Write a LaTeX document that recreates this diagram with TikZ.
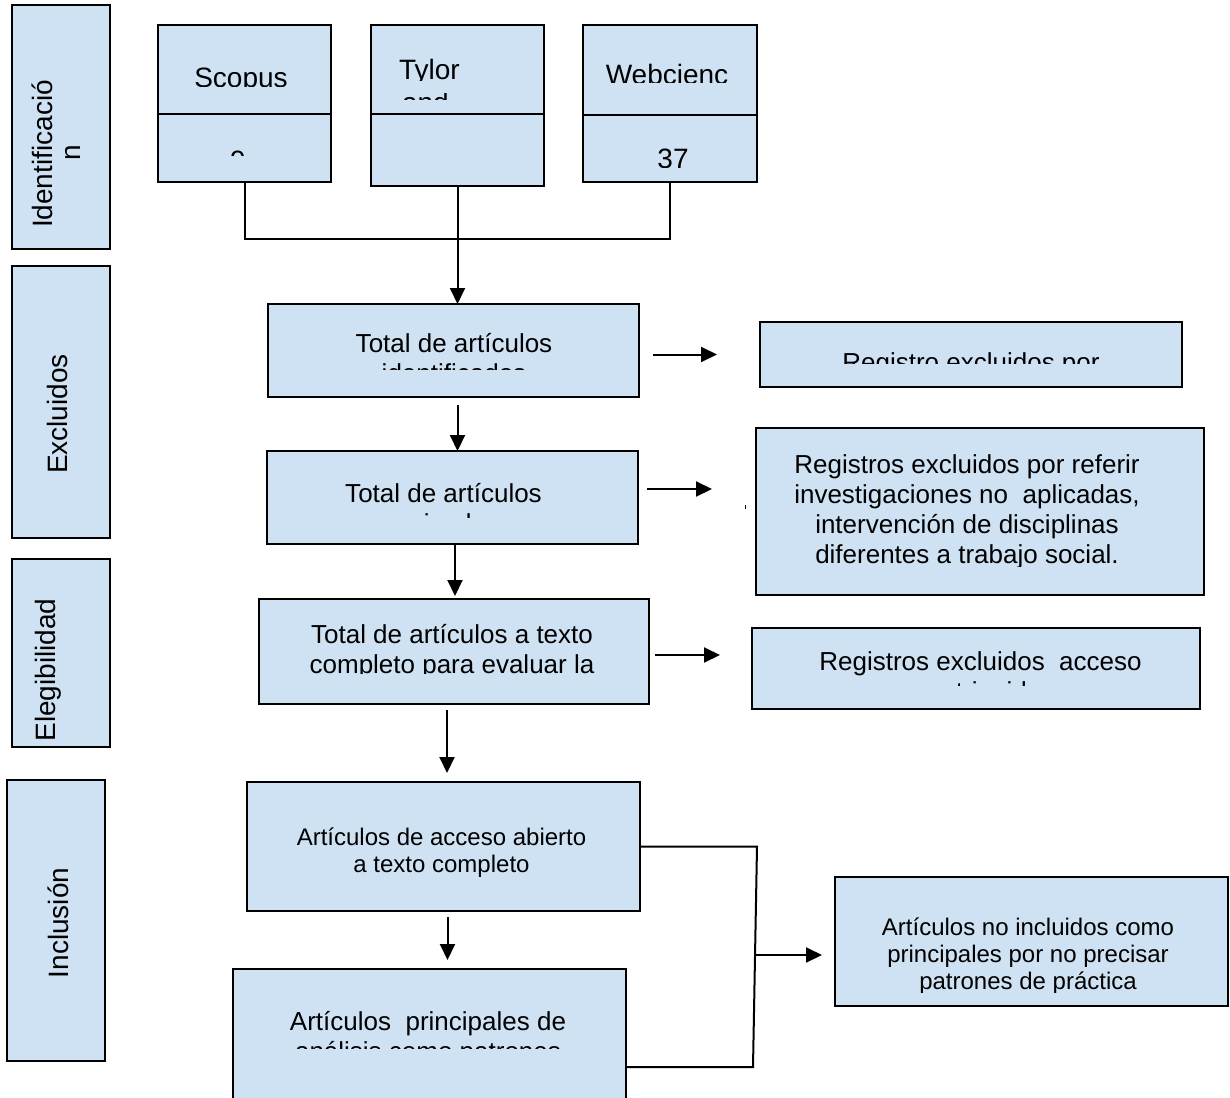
\documentclass[tikz,border=0pt]{standalone}
\usepackage{fontspec}
\setmainfont{Liberation Sans}
\usetikzlibrary{arrows.meta,calc}
\definecolor{boxblue}{RGB}{207,226,243}
\tikzset{
  bx/.style={draw=black, fill=boxblue, line width=2pt, inner sep=0pt, outer sep=0pt, anchor=north west},
  ln/.style={draw=black, line width=2pt},
  arr/.style={ln, -{Triangle[length=16pt,width=15pt]}},
  fA/.style={font=\fontsize{28}{32}\selectfont},
  fB/.style={font=\fontsize{26}{30}\selectfont},
  fC/.style={font=\fontsize{24}{27}\selectfont},
  txt/.style={inner sep=0pt, outer sep=0pt, anchor=base, align=center},
}
\begin{document}
\begin{tikzpicture}[x=1pt,y=-1pt]
\useasboundingbox (0,0) rectangle (1230,1097);
\clip (0,0) rectangle (1230,1097);
\fill[white] (0,0) rectangle (1230,1097);

% phase labels
\node[bx, minimum width=98pt, minimum height=244pt] (lid) at (12,5) {};
\node[txt, fA, rotate=90] (lidt1) at (52,154) {Identificació};
\node[txt, fA, rotate=90] (lidt2) at (80,153) {n};
\node[bx, minimum width=98pt, minimum height=272pt] (lex) at (12,266) {};
\node[txt, fA, rotate=90] (lext) at (67,414) {Excluidos};
\node[bx, minimum width=98pt, minimum height=188pt] (lel) at (12,559) {};
\node[txt, fA, rotate=90] (lelt) at (55,670) {Elegibilidad};
\node[bx, minimum width=98pt, minimum height=281pt] (lin) at (7,780) {};
\node[txt, fA, rotate=90] (lint) at (68,923) {Inclusión};

% source boxes
\node[bx, minimum width=173pt, minimum height=157pt] (scopus) at (158,25) {};
\draw[ln] (scopus.west |- 0,114) -- (scopus.east |- 0,114);
\begin{scope}
\clip (158,25) rectangle (331,87);
\node[txt, fA] (scopust) at (241,88) {Scopus};
\end{scope}
\begin{scope}
\clip (158,114) rectangle (331,155);
\node[txt, fA] (scopusn) at (238,170) {9};
\end{scope}

\node[bx, minimum width=173pt, minimum height=161pt] (tylor) at (371,25) {};
\draw[ln] (tylor.west |- 0,114) -- (tylor.east |- 0,114);
\begin{scope}
\clip (371,25) rectangle (544,81);
\node[txt, fA, anchor=base west] (tylort1) at (399,80) {Tylor};
\end{scope}
\begin{scope}
\clip (371,94) rectangle (544,100);
\node[txt, fA, anchor=base west] (tylort2) at (402,113) {and};
\end{scope}

\node[bx, minimum width=174pt, minimum height=157pt] (webc) at (583,25) {};
\draw[ln] (webc.west |- 0,115) -- (webc.east |- 0,115);
\begin{scope}
\clip (583,25) rectangle (757,83);
\node[txt, fA] (webct) at (667,85) {Webcienc};
\end{scope}
\begin{scope}
\clip (583,115) rectangle (757,167);
\node[txt, fA] (webcn) at (673,168) {37};
\end{scope}

% main column (multi-line nodes: base = baseline of last line)
\node[bx, minimum width=371pt, minimum height=93pt] (tot1) at (268,304) {};
\begin{scope}
\clip (268,304) rectangle (639,369);
\node[txt, fB] (tot1t) at (454,382) {Total de artículos\\identificados};
\end{scope}

\node[bx, minimum width=371pt, minimum height=93pt] (tot2) at (267,451) {};
\begin{scope}
\clip (267,451) rectangle (638,517);
\node[txt, fB] (tot2t) at (443.5,532) {Total de artículos\\revisados};
\end{scope}

\node[bx, minimum width=390pt, minimum height=105pt] (tot3) at (259,599) {};
\begin{scope}
\clip (259,599) rectangle (649,673);
\node[txt, fB] (tot3t) at (452,673) {Total de artículos a texto\\completo para evaluar la};
\end{scope}

\node[bx, minimum width=393pt, minimum height=129pt] (acc) at (247,782) {};
\node[txt, fC] (acct) at (441.5,872) {Artículos de acceso abierto\\a texto completo};

\node[bx, minimum width=393pt, minimum height=150pt] (prin) at (233,969) {};
\begin{scope}
\clip (233,969) rectangle (626,1048);
\node[txt, fB] (print) at (428,1060) {Artículos\ \ principales de\\análisis como patrones};
\end{scope}

% right column
\node[bx, minimum width=422pt, minimum height=65pt] (exA) at (760,322) {};
\begin{scope}
\clip (760,322) rectangle (1182,363);
\node[txt, fB] (exAt) at (971,371) {Registro excluidos por};
\end{scope}

\node[bx, minimum width=448pt, minimum height=167pt] (exB) at (756,428) {};
\begin{scope}
\clip (756,428) rectangle (1204,566);
\node[txt, fB] (exBt) at (967,563) {Registros excluidos por referir\\investigaciones no\ \ aplicadas,\\intervención de disciplinas\\diferentes a trabajo social.};
\end{scope}

\node[bx, minimum width=448pt, minimum height=81pt] (exC) at (752,628) {};
\begin{scope}
\clip (752,628) rectangle (1200,685);
\node[txt, fB] (exCt) at (980.5,700) {Registros excluidos\ \ acceso\\restringido};
\end{scope}

\node[bx, minimum width=393pt, minimum height=129pt] (exD) at (835,877) {};
\begin{scope}
\clip (835,877) rectangle (1228,992);
\node[txt, fC] (exDt) at (1028,989) {Artículos no incluidos como\\principales por no precisar\\patrones de práctica};
\end{scope}

% connectors
\coordinate (join) at (webc.south |- 0,239);
\draw[ln] (scopus.south) |- (join) -- (webc.south);
\draw[arr] (tylor.south) -- (tylor.south |- tot1.north);
\draw[arr] ($(tot1.south -| tylor.south)+(0,8)$) -- (tylor.south |- tot2.north);
\draw[arr] ($(tot2.south)+(2.5,0)$) -- ($(tot3.north)+(1,-3)$);
\draw[arr] ($(tot3.south)+(-7,6)$) -- ($(acc.north)+(3.5,-9)$);
\draw[arr] ($(acc.south)+(4,6)$) -- ($(prin.north)+(18,-9)$);

\draw[arr] ($(tot1.east)+(14,4)$) -- ($(exA.west)+(-43,0)$);
\draw[arr] ($(tot2.east)+(9,-8.5)$) -- ($(exB.west)+(-44,-22.5)$);
\draw[arr] ($(tot3.east)+(6,3.5)$) -- ($(exC.west)+(-32,-13.5)$);

\coordinate (brtop) at ($(acc.east)+(117,0)$);
\coordinate (brbot) at ($(prin.north east)+(127,98)$);
\draw[ln] (acc.east) -- (brtop) -- (brbot) -- ($(prin.north east)+(0,98)$);
\draw[arr] ($(exD.west)+(-80,13.5)$) -- ($(exD.west)+(-13,13.5)$);

% stray mark
\draw[black, line width=1pt] (745,505) -- (745,509);
\end{tikzpicture}
\end{document}
